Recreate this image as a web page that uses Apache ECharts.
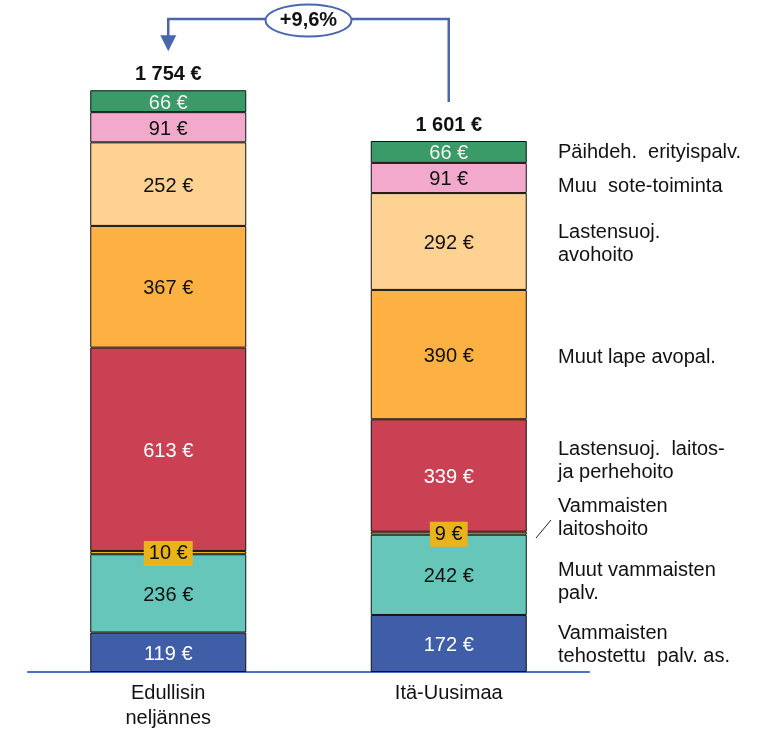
<!DOCTYPE html>
<html>
<head>
<meta charset="utf-8">
<script src="https://cdn.jsdelivr.net/npm/echarts@6/dist/echarts.min.js"></script>
<style>
html,body{margin:0;padding:0;background:#fff;}
#chart{width:764px;height:731px;}
</style>
</head>
<body>
<div id="chart"></div>
<script>
// ---- data ----
const categories = ['Edullisin\nneljännes', 'Itä-Uusimaa'];
const seriesNames = [
  'Vammaisten tehostettu palv. as.',
  'Muut vammaisten palv.',
  'Vammaisten laitoshoito',
  'Lastensuoj. laitos- ja perhehoito',
  'Muut lape avopal.',
  'Lastensuoj. avohoito',
  'Muu sote-toiminta',
  'Päihdeh. erityispalv.'
];
const vammTehostettu = [119, 172];
const muutVammaisten = [236, 242];
const vammLaitoshoito = [10, 9];
const lastensuojLaitos = [613, 339];
const muutLape = [367, 390];
const lastensuojAvo = [252, 292];
const muuSote = [91, 91];
const paihdeh = [66, 66];
const changeLabel = '+9,6%';
const sideLabels = [
  'Vammaisten\ntehostettu  palv. as.',
  'Muut vammaisten\npalv.',
  'Vammaisten\nlaitoshoito',
  'Lastensuoj.  laitos-\nja perhehoito',
  'Muut lape avopal.',
  'Lastensuoj.\navohoito',
  'Muu  sote-toiminta',
  'Päihdeh.  erityispalv.'
];

// ---- styles ----
const FONT = '"Liberation Sans", Arial, sans-serif';
const colors = ['#3F5EA7', '#66C6BA', '#E9B31B', '#CB4154', '#FDB143', '#FED293', '#F2A9CB', '#3A9A68'];
const labelColors = ['#FFFFFF', '#111', '#111', '#FFFFFF', '#111', '#111', '#111', '#F2F2F2'];
const seriesData = [vammTehostettu, muutVammaisten, vammLaitoshoito, lastensuojLaitos, muutLape, lastensuojAvo, muuSote, paihdeh];
const totals = categories.map((c, i) => seriesData.reduce((s, arr) => s + arr[i], 0));
const sideLabelY = [645, 582, 518, 461, 357, 244, 186, 152];

function fmt(n) {
  const s = String(n);
  return s.length > 3 ? s.slice(0, s.length - 3) + ' ' + s.slice(-3) : s;
}

const series = seriesData.map((arr, k) => ({
  name: seriesNames[k],
  type: 'bar',
  stack: 'total',
  barWidth: 156,
  data: arr,
  itemStyle: { color: colors[k], borderColor: '#111', borderWidth: 1 },
  label: {
    show: true,
    position: 'inside',
    offset: [0, k === 2 ? 1 : 2],
    formatter: p => p.value + ' €',
    color: labelColors[k],
    fontFamily: FONT,
    fontSize: 20,
    backgroundColor: k === 2 ? '#E9B31B' : 'transparent',
    padding: k === 2 ? [3, 5, 2, 5] : 0
  },
  emphasis: { disabled: true },
  z: k === 2 ? 3 : 2
}));
series.push({
  name: 'total',
  type: 'bar',
  stack: 'total',
  barWidth: 156,
  data: categories.map(() => 0),
  itemStyle: { color: 'transparent', borderWidth: 0 },
  label: {
    show: true,
    position: 'top',
    distance: 6,
    formatter: p => fmt(totals[p.dataIndex]) + ' €',
    color: '#111',
    fontFamily: FONT,
    fontWeight: 'bold',
    fontSize: 20
  },
  emphasis: { disabled: true }
});

const chart = echarts.init(document.getElementById('chart'), null, { renderer: 'canvas' });
chart.setOption({
  animation: false,
  backgroundColor: '#fff',
  grid: { left: 28, right: 175, top: 75, bottom: 59 },
  xAxis: {
    type: 'category',
    data: categories,
    axisLine: { lineStyle: { color: '#4A72C4', width: 2 } },
    axisTick: { show: false },
    axisLabel: { color: '#111', fontFamily: FONT, fontSize: 20, lineHeight: 25, margin: 9 }
  },
  yAxis: { type: 'value', min: 0, max: 1800, show: false, splitLine: { show: false } },
  series: series
});

// ---- annotations ----
const leftX = chart.convertToPixel({ xAxisIndex: 0 }, categories[0]);
const rightX = chart.convertToPixel({ xAxisIndex: 0 }, categories[1]);
const leftTop = chart.convertToPixel({ yAxisIndex: 0 }, totals[0]);
const rightTop = chart.convertToPixel({ yAxisIndex: 0 }, totals[1]);
const topY = 19;
const blue = '#4A66AE';
const tipY = leftTop - 39;
const midX = (leftX + rightX) / 2;

const graphics = [
  {
    type: 'polyline',
    shape: { points: [[rightX, rightTop - 39], [rightX, topY], [leftX, topY], [leftX, tipY - 14]] },
    style: { stroke: blue, lineWidth: 2.5, fill: null },
    z: 10
  },
  {
    type: 'polygon',
    shape: { points: [[leftX - 8, tipY - 16], [leftX + 8, tipY - 16], [leftX, tipY]] },
    style: { fill: blue },
    z: 10
  },
  {
    type: 'ellipse',
    shape: { cx: midX, cy: topY + 1.5, rx: 43, ry: 16 },
    style: { fill: '#fff', stroke: blue, lineWidth: 2 },
    z: 11
  },
  {
    type: 'text',
    x: midX, y: topY + 1.5,
    style: { text: changeLabel, fill: '#111', font: 'bold 20px ' + FONT, align: 'center', verticalAlign: 'middle' },
    z: 12
  },
  {
    type: 'line',
    shape: { x1: 536, y1: 538, x2: 551, y2: 520 },
    style: { stroke: '#222', lineWidth: 1 },
    z: 10
  }
];
sideLabels.forEach((t, i) => {
  graphics.push({
    type: 'text',
    x: 558, y: sideLabelY[i],
    style: { text: t, fill: '#111', fontFamily: FONT, fontSize: 20, lineHeight: 23, align: 'left', verticalAlign: 'middle' },
    z: 10
  });
});
chart.setOption({ graphic: graphics });
</script>
</body>
</html>
